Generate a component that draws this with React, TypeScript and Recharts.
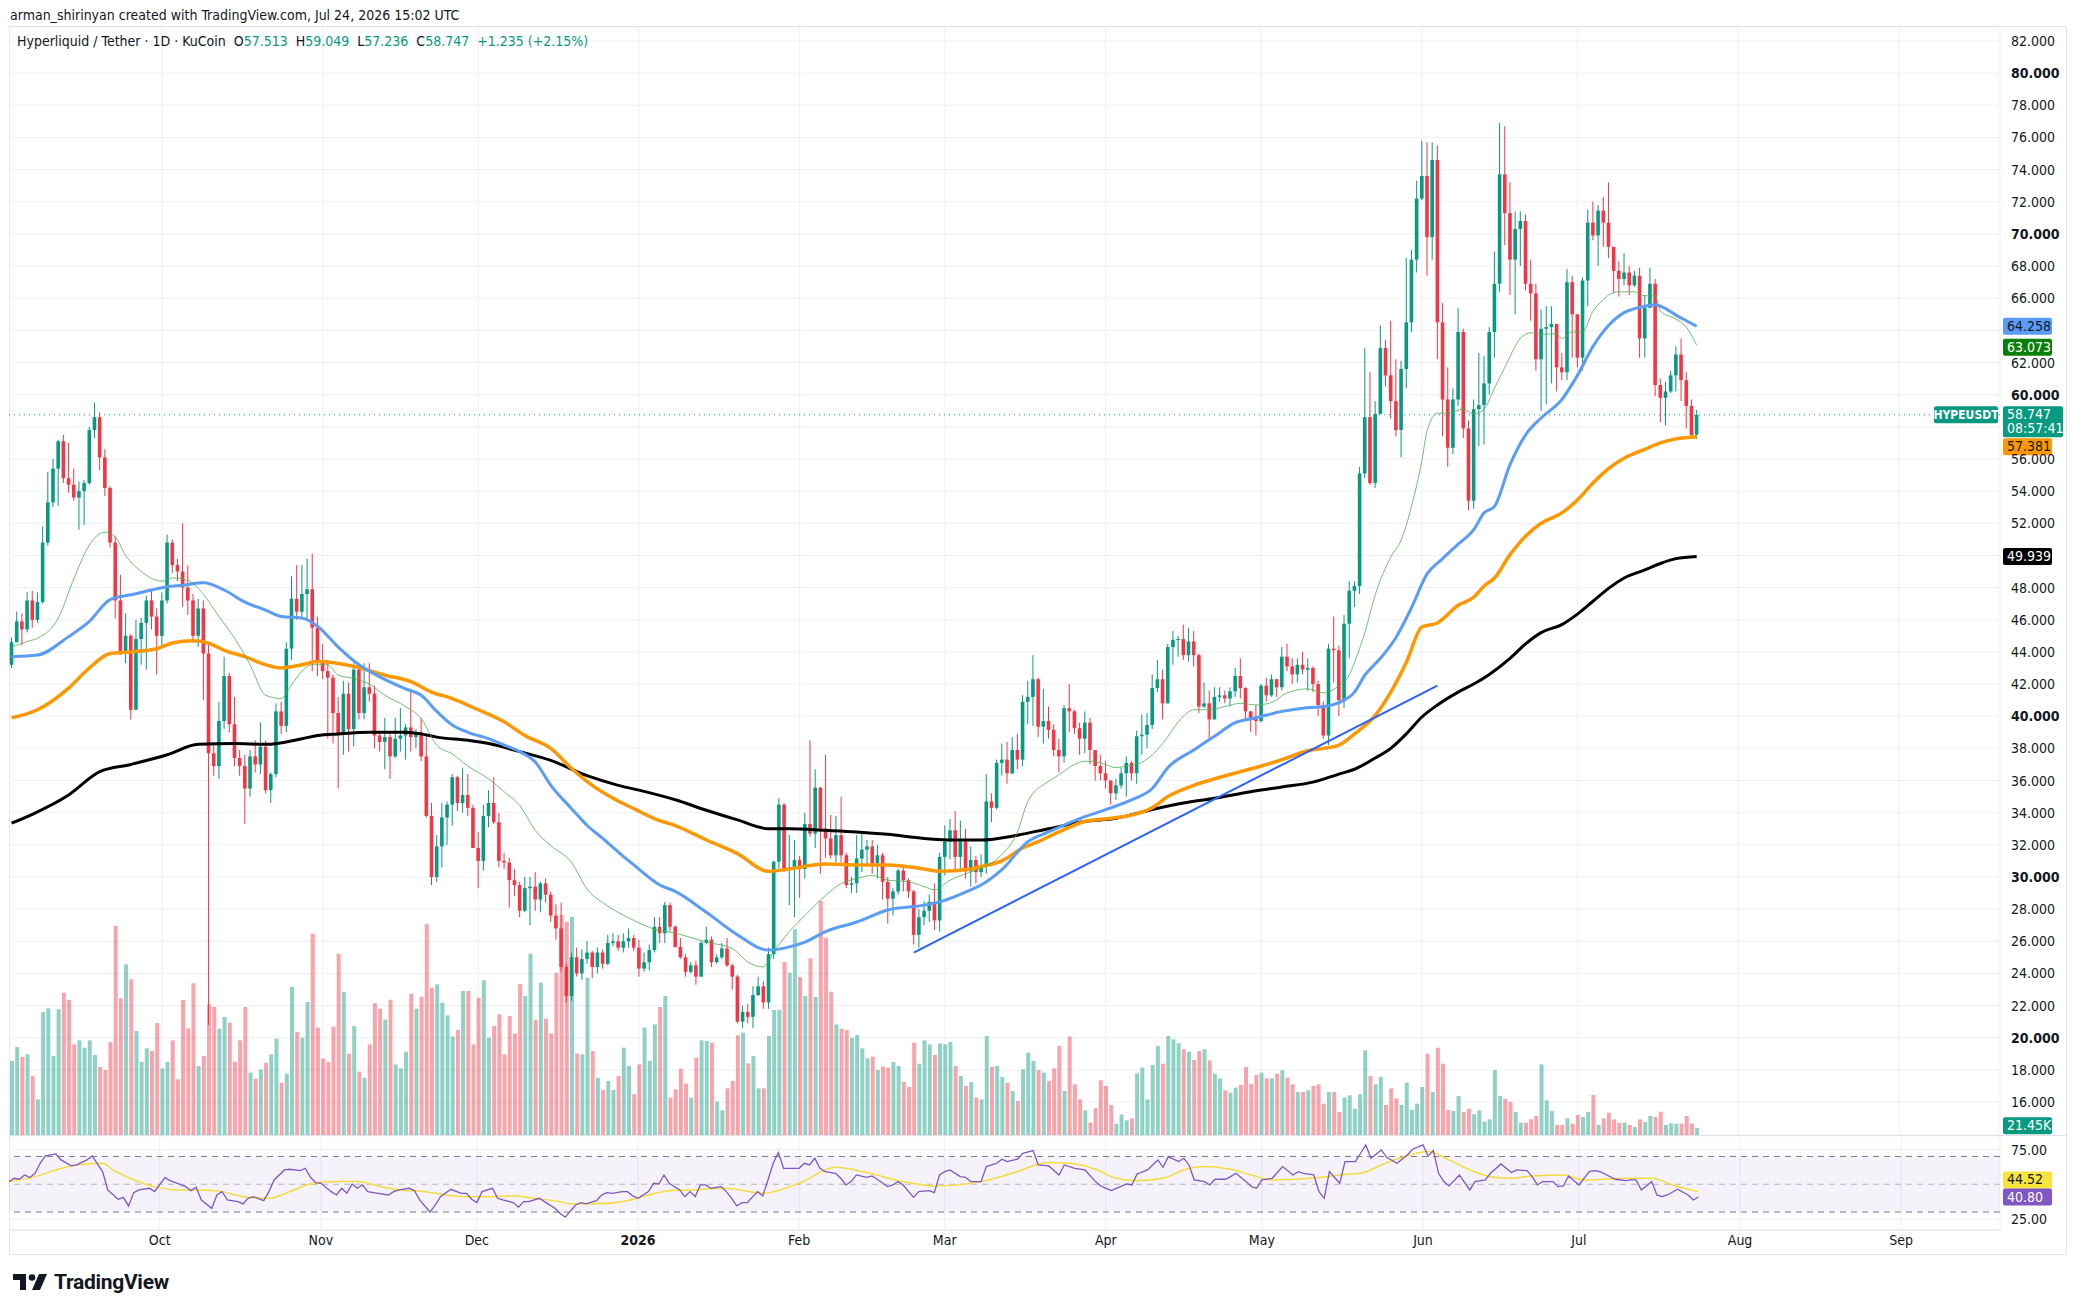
import React from 'react';
import { ComposedChart, Bar, Line, XAxis, YAxis, CartesianGrid, ReferenceLine, ReferenceArea, Cell } from 'recharts';

const FONT = "'Liberation Sans Narrow', 'DejaVu Sans Condensed', Roboto, sans-serif";
const TEXT = '#131722';
const UP = '#089981';
const DOWN = '#f23645';
const GRID = '#eef0f4';
const FRAME = '#e0e3eb';

// daily candles, day 0 = 2 Sep 2025, last = 24 Jul 2026
const firstOpen = 43.2;
const lastOpen = 57.513;
const closes = [
  44.6, 45.9, 45.4, 47.2, 46.0, 47.1, 50.8, 53.3, 55.4, 57.1,
  54.8, 54.4, 53.6, 54.0, 54.5, 57.8, 58.6, 56.1, 54.2, 50.8,
  47.2, 44.0, 45.0, 40.4, 44.8, 45.8, 47.2, 46.2, 45.0, 47.2,
  50.8, 49.4, 49.0, 48.0, 47.2, 45.0, 46.7, 43.9, 37.7, 36.9,
  39.7, 42.5, 39.5, 37.4, 36.9, 35.5, 37.5, 37.0, 38.1, 35.4,
  36.4, 40.3, 39.4, 44.2, 47.3, 46.5, 47.6, 47.9, 45.5, 43.4,
  42.8, 42.4, 40.2, 38.9, 41.4, 39.2, 42.9, 40.2, 41.8, 41.4,
  38.8, 38.4, 38.7, 37.5, 38.6, 38.8, 39.3, 38.7, 39.0, 37.5,
  33.8, 30.0, 31.9, 33.7, 34.5, 36.2, 34.6, 35.1, 34.3, 31.8,
  31.0, 33.8, 34.6, 33.4, 31.0, 30.9, 29.8, 29.5, 27.9, 29.3,
  29.4, 28.6, 29.6, 28.9, 27.6, 26.8, 24.4, 22.6, 25.0, 24.0,
  24.9, 25.3, 24.4, 25.3, 24.6, 25.9, 26.0, 25.6, 26.0, 26.2,
  25.6, 24.3, 24.7, 25.45, 26.9, 26.5, 28.25, 26.9, 25.65, 25.0,
  24.1, 24.5, 23.8, 25.9, 26.1, 24.7, 25.0, 25.55, 24.5, 23.8,
  21.0, 21.6, 21.3, 22.65, 23.2, 22.2, 25.2, 30.95, 34.5, 30.5,
  30.5, 31.05, 30.5, 33.3, 32.7, 35.55, 33.0, 32.4, 31.35, 32.6,
  31.35, 29.5, 29.6, 31.15, 31.7, 31.9, 30.85, 31.35, 29.7, 28.65,
  29.1, 30.4, 29.8, 29.1, 26.4, 27.5, 27.9, 28.45, 27.3, 31.25,
  32.2, 32.9, 31.25, 32.2, 30.35, 31.05, 30.3, 30.7, 34.7, 34.3,
  37.1, 37.3, 36.45, 37.9, 37.3, 40.9, 41.2, 42.3, 39.35, 39.7,
  39.15, 37.9, 37.5, 40.5, 40.3, 39.25, 38.6, 39.6, 37.9, 36.9,
  36.45, 36.0, 35.2, 35.7, 36.45, 37.1, 36.45, 38.75, 38.85, 39.45,
  41.75, 42.3, 40.8, 44.3, 44.75, 44.8, 43.8, 44.65, 43.8, 40.6,
  40.8, 39.8, 41.2, 41.3, 41.1, 41.55, 42.5, 41.75, 40.3, 39.9,
  39.7, 41.9, 41.3, 42.3, 41.8, 43.7, 43.1, 42.6, 43.2, 42.9,
  43.0, 42.0, 40.7, 38.8, 44.2, 44.1, 41.0, 45.75, 47.8, 48.1,
  55.1, 58.6, 54.5, 58.8, 62.9, 61.2, 59.6, 57.8, 61.6, 64.5,
  68.4, 72.2, 73.6, 69.8, 74.6, 64.5, 59.7, 56.7, 59.7, 63.9,
  57.9, 53.4, 59.1, 59.35, 60.7, 63.9, 66.9, 73.7, 71.3, 68.4,
  70.3, 70.8, 66.9, 66.3, 62.2, 64.1, 64.2, 64.4, 61.7, 61.4,
  67.0, 65.0, 62.3, 67.1, 70.7, 69.9, 71.45, 70.7, 69.2, 67.7,
  67.2, 67.6, 66.8, 67.4, 63.5, 65.4, 66.9, 60.6, 59.8, 60.2,
  61.2, 62.5, 60.9, 59.3, 57.5, 58.747,
];
const highs = [
  44.9, 46.5, 46.4, 47.7, 47.8, 47.7, 51.8, 55.2, 56.0, 57.2,
  57.5, 57.0, 55.4, 54.6, 54.7, 58.0, 59.5, 58.9, 56.6, 54.3,
  51.2, 48.8, 46.4, 45.1, 46.0, 46.1, 47.5, 47.9, 46.7, 47.7,
  51.3, 51.0, 49.8, 52.0, 49.4, 47.6, 47.3, 47.2, 44.6, 38.3,
  40.9, 43.7, 42.7, 41.2, 37.9, 37.6, 37.9, 38.5, 39.6, 38.5,
  36.5, 40.8, 40.9, 44.6, 48.7, 49.4, 49.4, 49.8, 50.1, 46.2,
  44.5, 43.5, 42.6, 41.2, 42.2, 42.1, 43.3, 43.2, 43.3, 43.3,
  41.9, 39.0, 39.9, 39.0, 39.9, 40.5, 39.5, 41.6, 39.2, 39.9,
  38.8, 34.6, 32.6, 34.6, 34.7, 36.4, 36.3, 36.8, 36.4, 34.5,
  32.8, 34.5, 35.4, 36.2, 34.0, 31.5, 31.2, 30.5, 29.7, 30.0,
  30.0, 30.3, 29.7, 29.9, 29.1, 28.3, 28.4, 24.6, 25.3, 25.6,
  25.5, 26.0, 25.4, 25.6, 25.5, 26.4, 26.5, 26.4, 26.5, 26.8,
  26.4, 26.1, 25.3, 25.8, 27.5, 27.5, 28.45, 28.4, 27.0, 26.2,
  25.2, 24.7, 24.8, 26.0, 26.9, 26.3, 25.2, 25.9, 26.2, 24.6,
  23.9, 22.0, 22.1, 23.2, 23.8, 23.5, 25.6, 31.0, 34.9, 34.6,
  32.6, 32.3, 31.3, 34.0, 38.5, 36.7, 35.6, 37.6, 33.85, 33.8,
  35.0, 31.5, 30.0, 32.6, 32.8, 32.3, 32.3, 32.0, 31.5, 30.0,
  29.3, 30.5, 30.6, 29.9, 29.2, 28.0, 28.5, 28.9, 29.6, 31.5,
  33.2, 33.6, 34.1, 33.5, 33.0, 31.9, 31.3, 31.4, 36.4, 35.2,
  37.3, 38.3, 38.4, 38.7, 38.9, 41.3, 42.2, 43.8, 42.4, 41.7,
  40.6, 39.5, 38.6, 40.7, 42.0, 40.4, 39.6, 40.3, 39.9, 37.9,
  37.6, 37.2, 36.0, 36.1, 36.8, 37.5, 37.2, 39.1, 40.1, 40.2,
  42.6, 43.5, 42.9, 44.5, 45.3, 45.0, 45.7, 45.5, 45.3, 43.9,
  42.1, 41.6, 41.8, 41.8, 41.6, 41.8, 43.0, 43.6, 41.8, 40.3,
  40.7, 42.0, 42.4, 42.6, 42.1, 44.3, 44.5, 43.6, 43.6, 44.0,
  43.6, 43.1, 42.2, 40.9, 44.5, 46.2, 44.4, 46.3, 48.4, 48.4,
  55.5, 62.9, 61.4, 59.6, 64.3, 63.4, 64.6, 62.2, 62.1, 68.5,
  69.0, 73.3, 75.8, 75.7, 75.7, 75.5, 65.7, 61.7, 60.4, 65.4,
  64.1, 58.4, 59.7, 62.6, 62.4, 64.2, 68.9, 76.9, 76.7, 73.2,
  71.4, 71.4, 71.2, 68.4, 66.9, 65.3, 65.5, 65.5, 64.0, 62.6,
  67.8, 67.4, 64.1, 67.3, 71.5, 72.0, 71.8, 72.3, 73.2, 69.1,
  68.3, 68.8, 68.0, 67.7, 67.9, 66.2, 67.9, 67.2, 61.0, 60.8,
  61.5, 63.0, 63.5, 61.4, 59.7, 59.049,
];
const lows = [
  43.0, 44.6, 44.4, 45.2, 45.5, 45.8, 47.0, 50.6, 53.0, 53.1,
  54.5, 53.9, 53.4, 51.6, 51.9, 54.4, 57.3, 55.3, 53.7, 50.5,
  46.1, 43.8, 43.3, 39.8, 40.4, 43.2, 42.9, 45.4, 42.6, 44.2,
  47.0, 48.9, 48.4, 46.8, 46.3, 44.6, 44.3, 41.0, 20.8, 36.3,
  36.1, 39.2, 39.0, 36.9, 36.3, 33.3, 35.0, 36.5, 36.4, 35.2,
  34.6, 36.2, 38.9, 39.0, 43.5, 46.0, 46.0, 46.0, 42.8, 42.5,
  42.3, 38.6, 38.3, 35.5, 37.6, 37.8, 38.1, 39.8, 39.8, 40.9,
  38.0, 37.8, 36.7, 36.1, 37.4, 37.8, 37.3, 37.8, 38.0, 37.2,
  33.7, 29.5, 29.7, 30.6, 32.0, 33.2, 34.1, 34.0, 33.8, 31.8,
  29.3, 30.4, 33.1, 33.3, 30.6, 30.5, 28.1, 28.8, 27.5, 27.8,
  27.0, 27.9, 27.8, 28.4, 27.2, 26.1, 24.1, 22.2, 22.3, 23.8,
  23.6, 24.6, 23.7, 24.0, 24.3, 24.5, 25.7, 25.4, 25.3, 25.6,
  25.4, 23.8, 24.1, 24.2, 25.3, 25.9, 25.9, 26.6, 25.6, 24.9,
  23.8, 24.0, 23.3, 23.8, 25.8, 24.4, 24.6, 24.9, 24.4, 23.0,
  20.9, 20.6, 20.9, 20.6, 22.6, 21.8, 21.8, 24.9, 30.5, 30.3,
  28.25, 27.5, 28.7, 29.9, 32.5, 31.8, 30.2, 31.2, 31.15, 30.9,
  30.9, 29.3, 29.0, 29.0, 30.3, 30.8, 30.2, 29.9, 28.6, 27.1,
  27.6, 28.9, 29.1, 28.7, 25.8, 25.6, 27.0, 27.2, 26.7, 26.6,
  30.1, 31.1, 30.5, 30.4, 29.9, 29.4, 29.6, 30.0, 30.2, 33.4,
  34.2, 36.3, 35.8, 36.4, 36.7, 36.9, 39.5, 39.4, 38.7, 38.3,
  38.6, 37.5, 36.5, 37.1, 39.0, 38.9, 37.6, 37.7, 37.0, 36.0,
  36.0, 35.5, 34.5, 34.8, 35.5, 35.0, 36.0, 35.8, 37.6, 38.0,
  39.2, 41.5, 39.8, 40.8, 43.2, 43.7, 43.5, 43.4, 43.1, 40.2,
  40.5, 38.5, 39.8, 40.9, 40.8, 40.6, 41.2, 41.1, 39.8, 39.0,
  38.8, 39.6, 40.9, 41.2, 41.2, 41.6, 42.8, 42.0, 42.1, 42.6,
  41.6, 41.5, 40.0, 38.6, 38.2, 42.1, 40.0, 40.5, 43.6, 46.8,
  47.6, 54.8, 54.4, 54.2, 58.8, 60.5, 58.5, 57.4, 56.1, 60.4,
  63.9, 67.6, 72.1, 67.4, 68.4, 62.2, 57.4, 55.5, 56.3, 59.3,
  57.3, 52.8, 52.9, 56.8, 56.9, 60.0, 62.3, 66.4, 69.3, 66.2,
  65.0, 68.0, 66.5, 64.6, 61.5, 59.0, 59.4, 60.7, 60.2, 60.9,
  60.9, 62.3, 61.7, 61.5, 65.5, 69.6, 68.0, 69.2, 68.5, 66.3,
  66.1, 66.8, 66.2, 66.7, 62.3, 62.3, 65.9, 59.9, 58.3, 58.1,
  60.1, 60.2, 59.6, 57.9, 57.4, 57.236,
];
// volume, thousands
const volumes = [
  222, 264, 234, 242, 177, 107, 369, 380, 237, 377,
  427, 405, 272, 284, 262, 284, 240, 204, 195, 279,
  627, 410, 512, 467, 312, 219, 260, 252, 336, 200,
  219, 284, 167, 405, 320, 455, 207, 237, 392, 384,
  319, 354, 337, 220, 284, 384, 187, 169, 197, 217,
  242, 289, 157, 184, 444, 309, 292, 399, 604, 322,
  229, 219, 325, 544, 429, 244, 327, 190, 172, 272,
  395, 379, 346, 406, 212, 200, 250, 424, 379, 415,
  632, 442, 452, 397, 359, 295, 315, 432, 432, 272,
  412, 464, 292, 327, 362, 242, 357, 304, 452, 417,
  544, 345, 457, 349, 304, 487, 660, 640, 654, 244,
  242, 472, 252, 172, 135, 162, 135, 177, 262, 207,
  122, 212, 322, 222, 332, 384, 417, 112, 137, 199,
  154, 112, 232, 284, 282, 277, 100, 74, 140, 162,
  299, 307, 215, 237, 140, 140, 297, 375, 375, 519,
  487, 617, 474, 417, 530, 414, 702, 592, 430, 332,
  319, 315, 292, 300, 260, 230, 235, 195, 205, 202,
  219, 207, 159, 144, 277, 214, 284, 272, 240, 275,
  272, 279, 207, 177, 147, 159, 112, 107, 297, 205,
  207, 174, 157, 132, 102, 197, 247, 222, 195, 187,
  162, 200, 267, 132, 296, 152, 107, 74, 37, 80,
  164, 147, 90, 34, 62, 44, 50, 185, 202, 107,
  210, 267, 214, 297, 287, 275, 257, 250, 225, 252,
  257, 224, 184, 170, 134, 127, 142, 150, 204, 154,
  180, 187, 170, 170, 184, 194, 172, 152, 129, 129,
  134, 147, 152, 94, 129, 129, 69, 112, 119, 79,
  122, 254, 177, 152, 174, 90, 140, 110, 90, 157,
  75, 94, 144, 244, 129, 262, 214, 75, 72, 117,
  69, 79, 62, 74, 40, 47, 195, 117, 109, 100,
  69, 37, 37, 47, 57, 212, 104, 72, 30, 30,
  50, 34, 60, 54, 69, 120, 30, 50, 67, 47,
  37, 37, 30, 24, 47, 39, 57, 54, 70, 30,
  35, 34, 34, 57, 35, 21.45,
];

// moving averages: [day, value]
const sma20Pts = [
  [0, 44.3], [3, 44.65], [5, 44.85], [9, 46.1], [12, 48.55], [15, 50.65], [17, 51.35], [18, 51.45], [20, 51.15], [22, 50.0],
  [25, 49.0], [29, 48.4], [31, 48.6], [34, 48.45], [36, 47.95], [40, 46.2], [43, 44.85], [46, 43.2], [49, 41.3], [52, 41.1],
  [54, 41.95], [56, 42.8], [58, 43.2], [61, 43.2], [63, 42.55], [66, 42.35], [69, 42.0], [72, 41.3], [76, 40.6], [79, 39.85],
  [82, 38.2], [85, 37.65], [88, 36.9], [92, 36.1], [95, 35.3], [98, 34.45], [101, 32.9], [104, 31.95], [108, 30.9], [111, 29.25],
  [114, 28.4], [117, 27.8], [120, 27.3], [124, 26.75], [128, 26.5], [134, 25.95], [139, 25.55], [142, 24.7], [145, 24.4], [147, 25.35],
  [150, 26.6], [153, 27.6], [157, 28.85], [160, 29.6], [163, 29.9], [166, 30.1], [169, 29.8], [173, 29.7], [176, 29.4], [178, 29.2],
  [181, 29.8], [184, 30.2], [187, 30.55], [191, 31.4], [194, 32.8], [196, 34.7], [200, 35.95], [202, 36.35], [205, 37.0], [207, 37.2],
  [210, 37.1], [213, 36.8], [215, 36.9], [217, 37.0], [220, 37.6], [222, 38.3], [226, 40.0], [228, 40.4], [231, 40.4], [234, 40.6],
  [237, 40.8], [240, 40.7], [243, 40.85], [246, 41.45], [250, 41.7], [253, 41.45], [256, 41.9], [258, 42.55], [259, 43.35], [261, 45.2],
  [263, 47.55], [266, 49.9], [268, 50.95], [270, 53.05], [272, 55.9], [273, 57.75], [275, 58.85], [277, 58.85], [280, 59.1], [282, 58.8],
  [284, 59.1], [286, 60.4], [288, 61.7], [291, 63.5], [293, 63.85], [295, 63.75], [298, 63.8], [299, 63.5], [301, 63.9], [303, 63.9],
  [305, 65.2], [307, 65.9], [308, 66.2], [310, 66.4], [313, 66.4], [315, 66.15], [317, 66.15], [318, 65.2], [321, 64.7], [323, 64.2],
  [325, 63.073],
];
const sma50Pts = [
  [0, 43.7], [5, 43.8], [11, 44.95], [15, 45.9], [19, 47.25], [23, 47.55], [27, 47.85], [30, 48.05], [33, 48.15], [37, 48.3],
  [41, 47.85], [45, 47.1], [49, 46.6], [52, 46.2], [56, 46.1], [59, 45.6], [63, 44.3], [67, 43.2], [71, 42.45], [76, 41.7],
  [79, 41.3], [82, 40.3], [85, 39.45], [88, 39.0], [92, 38.6], [95, 38.2], [98, 37.8], [101, 37.15], [104, 35.7], [108, 34.25],
  [111, 33.2], [114, 32.4], [117, 31.55], [120, 30.75], [125, 29.5], [128, 29.1], [134, 27.8], [140, 26.4], [146, 25.45], [150, 25.65],
  [153, 25.95], [157, 26.6], [163, 27.2], [169, 27.95], [176, 28.25], [179, 28.45], [185, 29.2], [187, 29.5], [191, 30.45], [196, 32.2],
  [200, 32.8], [207, 33.75], [212, 34.3], [216, 34.8], [220, 35.5], [223, 36.8], [228, 37.9], [232, 38.75], [236, 39.6], [240, 39.9],
  [245, 40.3], [249, 40.5], [253, 40.6], [256, 40.85], [259, 41.5], [261, 42.55], [264, 43.6], [267, 44.9], [270, 46.75], [273, 48.85],
  [276, 49.8], [279, 50.7], [282, 51.6], [284, 52.65], [286, 53.05], [289, 55.65], [292, 57.5], [295, 58.55], [299, 59.7], [302, 61.2],
  [305, 63.0], [308, 64.3], [311, 65.1], [313, 65.35], [315, 65.5], [317, 65.6], [319, 65.35], [321, 64.95], [323, 64.6], [325, 64.258],
];
const sma100Pts = [
  [0, 39.9], [5, 40.4], [11, 41.75], [15, 43.0], [19, 43.9], [23, 44.0], [28, 44.2], [31, 44.55], [35, 44.7], [38, 44.55],
  [41, 44.1], [45, 43.7], [49, 43.2], [52, 43.0], [56, 43.2], [59, 43.4], [66, 43.1], [72, 42.55], [77, 42.15], [81, 41.5],
  [85, 41.1], [90, 40.4], [95, 39.65], [99, 38.8], [104, 38.0], [108, 36.75], [112, 35.7], [116, 34.9], [120, 34.25], [125, 33.5],
  [128, 33.2], [134, 32.3], [140, 31.45], [146, 30.35], [150, 30.5], [157, 30.8], [163, 30.75], [169, 30.75], [176, 30.5], [179, 30.35],
  [185, 30.5], [187, 30.65], [191, 31.0], [195, 31.8], [198, 32.2], [202, 32.8], [207, 33.45], [212, 33.65], [216, 33.85], [220, 34.3],
  [223, 35.0], [228, 35.7], [232, 36.1], [237, 36.55], [241, 36.9], [245, 37.3], [250, 37.85], [253, 38.0], [256, 38.2], [259, 38.9],
  [263, 40.05], [266, 41.5], [269, 43.35], [272, 45.55], [275, 45.8], [279, 46.9], [282, 47.4], [284, 48.1], [286, 48.6], [289, 50.05],
  [292, 51.2], [295, 52.0], [299, 52.65], [302, 53.45], [305, 54.5], [308, 55.4], [311, 56.05], [315, 56.6], [318, 57.0], [321, 57.25],
  [325, 57.381],
];
const sma200Pts = [
  [0, 33.35], [4, 33.9], [11, 35.1], [17, 36.55], [23, 37.0], [30, 37.6], [36, 38.25], [43, 38.3], [49, 38.25], [56, 38.6],
  [59, 38.8], [63, 38.9], [69, 39.0], [76, 39.0], [79, 38.9], [82, 38.7], [88, 38.5], [92, 38.3], [98, 37.8], [104, 37.25],
  [111, 36.3], [117, 35.7], [121, 35.4], [128, 34.8], [134, 34.15], [140, 33.55], [146, 33.0], [150, 33.0], [157, 32.9], [163, 32.8],
  [169, 32.65], [176, 32.4], [182, 32.3], [187, 32.3], [194, 32.6], [200, 33.0], [207, 33.45], [213, 33.65], [220, 34.2], [226, 34.6],
  [232, 34.9], [239, 35.3], [245, 35.6], [251, 35.9], [256, 36.4], [259, 36.7], [263, 37.4], [266, 38.0], [269, 38.9], [272, 39.95],
  [275, 40.7], [279, 41.5], [282, 42.0], [285, 42.6], [289, 43.6], [292, 44.5], [295, 45.2], [299, 45.7], [302, 46.35], [305, 47.15],
  [308, 47.95], [311, 48.6], [315, 49.1], [318, 49.5], [321, 49.8], [325, 49.939],
];

// RSI(14) and its moving average: [day, value]
const rsiPts = [
  [0, 51.9], [1, 54.3], [2, 53.6], [3, 56.7], [4, 54.8], [5, 57.9], [6, 65.1], [7, 70.4], [9, 71.8], [10, 67.5],
  [12, 63.2], [13, 63.9], [15, 67.5], [16, 70.4], [18, 59.1], [19, 45.9], [21, 39.2], [22, 40.6], [23, 34.4], [24, 44.0],
  [25, 45.9], [27, 47.1], [28, 44.7], [30, 54.8], [31, 52.6], [32, 51.2], [34, 48.3], [35, 45.4], [36, 47.8], [37, 38.7],
  [39, 32.7], [40, 42.3], [41, 44.7], [42, 38.7], [44, 37.5], [45, 35.9], [46, 39.9], [47, 41.1], [49, 38.2], [50, 44.7],
  [51, 53.1], [53, 60.3], [54, 60.8], [56, 59.8], [57, 61.5], [58, 55.0], [59, 51.2], [60, 50.7], [62, 44.7], [63, 42.3],
  [64, 47.1], [65, 43.5], [66, 50.2], [67, 47.1], [68, 49.5], [69, 44.7], [71, 43.5], [73, 42.3], [74, 44.7], [75, 45.9],
  [77, 47.1], [78, 45.4], [79, 38.7], [81, 29.9], [82, 35.1], [83, 41.1], [85, 46.4], [87, 43.5], [88, 43.5], [89, 39.2],
  [90, 36.8], [91, 44.7], [93, 47.1], [94, 39.9], [95, 38.7], [97, 36.8], [98, 33.5], [99, 37.5], [100, 37.5], [102, 39.9],
  [103, 37.5], [105, 32.7], [106, 29.1], [107, 26.3], [109, 35.1], [110, 36.8], [111, 35.9], [113, 38.2], [114, 42.3], [115, 44.0],
  [116, 43.5], [118, 44.7], [119, 44.7], [120, 41.6], [121, 39.9], [123, 44.7], [124, 50.7], [125, 50.2], [126, 56.7], [127, 50.7],
  [129, 45.9], [130, 41.1], [131, 44.7], [132, 41.1], [133, 49.5], [134, 49.5], [135, 47.1], [137, 48.3], [138, 44.7], [139, 39.9],
  [140, 34.4], [141, 36.8], [142, 36.8], [144, 44.7], [145, 41.6], [146, 53.1], [147, 65.1], [148, 72.8], [149, 61.5], [150, 61.5],
  [152, 61.5], [153, 65.1], [154, 63.9], [155, 68.7], [156, 61.5], [157, 59.1], [159, 57.9], [160, 54.3], [161, 49.5], [162, 51.9],
  [163, 56.7], [165, 55.0], [166, 56.0], [167, 53.6], [169, 48.3], [170, 49.5], [171, 51.9], [172, 49.5], [174, 40.6], [175, 44.7],
  [177, 45.4], [178, 44.0], [179, 56.7], [180, 59.1], [181, 60.3], [183, 55.5], [184, 55.0], [185, 51.9], [187, 51.9], [188, 62.7],
  [190, 65.1], [191, 68.0], [192, 66.3], [194, 68.0], [195, 72.3], [197, 74.2], [198, 63.9], [200, 63.2], [202, 56.7], [203, 63.9],
  [205, 61.5], [207, 60.3], [209, 51.9], [210, 48.8], [212, 45.4], [213, 47.1], [215, 50.2], [216, 49.5], [217, 57.4], [219, 60.3],
  [221, 67.5], [222, 62.2], [223, 69.9], [225, 66.3], [226, 68.7], [227, 63.9], [228, 53.1], [230, 51.9], [231, 49.5], [232, 53.6],
  [234, 53.6], [235, 55.5], [236, 57.9], [238, 51.9], [239, 48.3], [240, 47.1], [241, 53.1], [243, 54.3], [245, 62.7], [247, 56.7],
  [248, 59.1], [249, 57.9], [251, 56.7], [252, 44.7], [253, 39.9], [254, 59.1], [256, 50.7], [257, 66.3], [259, 66.3], [260, 72.3],
  [261, 78.3], [262, 68.7], [264, 74.7], [265, 69.4], [267, 65.1], [269, 71.1], [270, 75.2], [272, 78.3], [273, 70.4], [274, 74.2],
  [275, 57.9], [276, 51.9], [277, 48.8], [279, 56.7], [281, 45.9], [282, 51.9], [284, 53.1], [285, 57.9], [287, 64.6], [289, 58.4],
  [290, 60.3], [292, 59.8], [293, 55.5], [294, 49.5], [295, 51.9], [297, 51.9], [298, 48.3], [299, 48.8], [300, 56.0], [302, 49.5],
  [304, 59.1], [305, 59.8], [306, 59.1], [307, 57.4], [309, 53.6], [311, 52.6], [312, 53.1], [313, 53.1], [314, 45.9], [316, 51.9],
  [317, 42.3], [318, 41.1], [319, 42.3], [321, 46.4], [323, 42.3], [324, 38.7], [325, 40.8],
];
const rsiMaPts = [
  [0, 51.9], [5, 55.5], [9, 60.3], [13, 63.9], [18, 65.1], [20, 60.3], [24, 53.1], [28, 48.3], [32, 45.9], [37, 45.9],
  [41, 44.7], [45, 41.1], [50, 39.9], [54, 44.7], [58, 50.2], [63, 51.9], [67, 51.9], [71, 48.8], [75, 45.9], [80, 44.7],
  [84, 42.3], [88, 41.1], [93, 41.1], [97, 41.6], [101, 39.9], [106, 37.5], [108, 35.9], [113, 35.9], [119, 38.2], [123, 42.3],
  [127, 45.4], [131, 45.9], [138, 47.1], [145, 43.5], [152, 50.7], [159, 62.2], [165, 58.4], [172, 51.9], [178, 48.8], [187, 51.9],
  [193, 57.9], [200, 65.6], [204, 65.1], [209, 60.8], [213, 54.3], [217, 52.6], [222, 54.3], [226, 60.3], [230, 62.7], [235, 60.8],
  [239, 56.7], [243, 53.1], [252, 54.8], [256, 56.7], [260, 57.9], [264, 63.9], [268, 69.4], [273, 73.5], [277, 67.5], [281, 60.3],
  [286, 54.8], [289, 54.3], [293, 56.0], [299, 56.7], [303, 53.1], [307, 53.6], [311, 54.3], [316, 54.3], [320, 49.5], [325, 44.52],
];

const TOTAL_DAYS = 384; // through late Sep 2026
const monthTicks = [29, 60, 90, 121, 152, 180, 211, 241, 272, 302, 333, 364];
const monthLabels = ['Oct', 'Nov', 'Dec', '2026', 'Feb', 'Mar', 'Apr', 'May', 'Jun', 'Jul', 'Aug', 'Sep'];
const priceTicks = Array.from({ length: 34 }, (_, i) => 16 + i * 2);
const coveredPriceLabels = [64, 58, 50]; // hidden behind the price badges
const trendLine = [{ x: 174, y: 25.3 }, { x: 275, y: 41.9 }];
const legendChange = '+1.235 (+2.15%)';

const toMap = (pts: number[][]) => new Map(pts.map(([d, v]) => [d, v]));
const m20 = toMap(sma20Pts);
const m50 = toMap(sma50Pts);
const m100 = toMap(sma100Pts);
const m200 = toMap(sma200Pts);
const mRsi = toMap(rsiPts);
const mRsiMa = toMap(rsiMaPts);

const rows = Array.from({ length: TOTAL_DAYS }, (_, d) => {
  const row: any = {
    d,
    sma20: m20.get(d) ?? null,
    sma50: m50.get(d) ?? null,
    sma100: m100.get(d) ?? null,
    sma200: m200.get(d) ?? null,
    rsi: mRsi.get(d) ?? null,
    rsiMa: mRsiMa.get(d) ?? null,
  };
  if (d < closes.length) {
    const c = closes[d];
    const o = d === 0 ? firstOpen : d === closes.length - 1 ? lastOpen : closes[d - 1];
    const h = Math.max(highs[d], o, c);
    const l = Math.min(lows[d], o, c);
    Object.assign(row, { o, h, l, c, range: [l, h], vol: volumes[d] });
  }
  return row;
});

const last = closes.length - 1;

function Candle(props: any) {
  const { x, y, width, height, payload } = props;
  if (!payload || payload.h == null) return null;
  const { o, h, l, c } = payload;
  const top = Math.min(y, y + height);
  const span = Math.abs(height);
  const k = span / (h - l || 1);
  const yOf = (v: number) => top + (h - v) * k;
  const color = c >= o ? UP : DOWN;
  const cx = x + width / 2;
  const bTop = yOf(Math.max(o, c));
  const bH = Math.max(1, yOf(Math.min(o, c)) - bTop);
  return (
    <g>
      <line x1={cx} x2={cx} y1={top} y2={top + span} stroke={color} strokeWidth={1} />
      <rect x={cx - 1.8} y={bTop} width={3.6} height={bH} fill={color} />
    </g>
  );
}

const badge = (lines: string[], bg: string, fg: string, dy = 0, tag?: string) => (props: any) => {
  const vb = props.viewBox || {};
  const x = vb.x + vb.width + 3;
  const y = vb.y + dy;
  const two = lines.length > 1;
  const h = two ? 31 : 17;
  const w = two ? 60 : 49;
  const top = two ? y - 8.5 : y - h / 2;
  return (
    <g fontFamily={FONT}>
      {tag && (
        <g>
          <rect x={vb.x + vb.width - 66} y={y - 8.5} width={64} height={17} rx={2} fill={bg} />
          <text x={vb.x + vb.width - 34} y={y + 4.5} fontSize={12} fontWeight={700} fill={fg} textAnchor="middle">{tag}</text>
        </g>
      )}
      <rect x={x} y={top} width={w} height={h} rx={2} fill={bg} />
      {lines.map((t, i) => (
        <text key={i} x={x + 4} y={top + 13 + i * 14} fontSize={14} fill={fg}>{t}</text>
      ))}
    </g>
  );
};

const PriceTick = (p: any) => {
  const v = p.payload.value;
  if (coveredPriceLabels.includes(v)) return null;
  return (
    <text x={p.x} y={p.y} dy={5} fontSize={14} fill={TEXT} fontFamily={FONT} fontWeight={v % 10 === 0 ? 700 : 400} textAnchor="start">
      {v.toFixed(3)}
    </text>
  );
};

const RsiTick = (p: any) => (
  <text x={p.x} y={p.y} dy={5} fontSize={14} fill={TEXT} fontFamily={FONT} textAnchor="start">
    {p.payload.value.toFixed(2)}
  </text>
);

const TimeTick = (p: any) => {
  const i = monthTicks.indexOf(p.payload.value);
  if (i < 0) return null;
  const lab = monthLabels[i];
  return (
    <text x={p.x} y={p.y + 15} fontSize={14} fill={TEXT} fontFamily={FONT} textAnchor="middle" fontWeight={lab === '2026' ? 700 : 400}>
      {lab}
    </text>
  );
};

export default function App() {
  return (
    <div style={{ position: 'absolute', left: 0, top: 0, width: 2078, height: 1314, background: '#fff', fontFamily: FONT, color: TEXT }}>
      <div style={{ position: 'absolute', left: 10, top: 6, fontSize: 14, lineHeight: '18px', whiteSpace: 'nowrap' }}>
        arman_shirinyan created with TradingView.com, Jul 24, 2026 15:02 UTC
      </div>
      <div style={{ position: 'absolute', left: 9, top: 26, width: 2056, height: 1227, border: `1px solid ${FRAME}` }} />

      <div style={{ position: 'absolute', left: 9, top: 27 }}>
        <ComposedChart width={2058} height={1108} data={rows} margin={{ top: 0, right: 0, bottom: 0, left: 0 }}>
          <CartesianGrid xAxisId="p" yAxisId="price" stroke={GRID} />
          <XAxis xAxisId="p" dataKey="d" type="category" hide ticks={monthTicks} interval={0} />
          <XAxis xAxisId="v" dataKey="d" type="category" hide />
          <YAxis yAxisId="price" orientation="right" width={67} domain={[13.95, 82.87]} allowDataOverflow ticks={priceTicks} interval={0} axisLine={false} tickLine={false} tickMargin={5} tick={PriceTick} />
          <YAxis yAxisId="vol" hide domain={[0, 3324]} allowDataOverflow />
          <Bar xAxisId="v" yAxisId="vol" dataKey="vol" barSize={4} isAnimationActive={false}>
            {rows.map((r) => (
              <Cell key={r.d} fill={r.c >= r.o ? 'rgba(8,153,129,0.45)' : 'rgba(242,54,69,0.45)'} />
            ))}
          </Bar>
          <Bar xAxisId="p" yAxisId="price" dataKey="range" shape={Candle} isAnimationActive={false} />
          <Line xAxisId="p" yAxisId="price" type="monotone" dataKey="sma200" stroke="#000000" strokeWidth={3} dot={false} connectNulls isAnimationActive={false} />
          <Line xAxisId="p" yAxisId="price" type="monotone" dataKey="sma100" stroke="#ff9800" strokeWidth={3.5} dot={false} connectNulls isAnimationActive={false} />
          <Line xAxisId="p" yAxisId="price" type="monotone" dataKey="sma50" stroke="#5b9cf6" strokeWidth={3} dot={false} connectNulls isAnimationActive={false} />
          <Line xAxisId="p" yAxisId="price" type="monotone" dataKey="sma20" stroke="#4caf50" strokeOpacity={0.8} strokeWidth={1} dot={false} connectNulls isAnimationActive={false} />
          <ReferenceLine xAxisId="p" yAxisId="price" segment={trendLine} stroke="#2962ff" strokeWidth={2} />
          <ReferenceLine xAxisId="p" yAxisId="price" y={closes[last]} stroke={UP} strokeDasharray="1 4" label={badge([closes[last].toFixed(3), '08:57:41'], UP, '#fff', 0, 'HYPEUSDT')} />
          <ReferenceLine xAxisId="p" yAxisId="price" y={64.258} stroke="none" label={badge(['64.258'], '#5b9cf6', TEXT)} />
          <ReferenceLine xAxisId="p" yAxisId="price" y={63.073} stroke="none" label={badge(['63.073'], '#0a7e0a', '#fff', 2)} />
          <ReferenceLine xAxisId="p" yAxisId="price" y={57.381} stroke="none" label={badge(['57.381'], '#ff9800', TEXT, 10)} />
          <ReferenceLine xAxisId="p" yAxisId="price" y={49.939} stroke="none" label={badge(['49.939'], '#000', '#fff')} />
          <ReferenceLine xAxisId="p" yAxisId="vol" y={volumes[last]} stroke="none" label={badge(['21.45K'], UP, '#fff', -2)} />
        </ComposedChart>
      </div>

      <div style={{ position: 'absolute', left: 9, top: 1135, width: 2058, height: 1, background: FRAME }} />

      <div style={{ position: 'absolute', left: 9, top: 1137 }}>
        <ComposedChart width={2058} height={118} data={rows} margin={{ top: 0, right: 0, bottom: 0, left: 0 }}>
          <CartesianGrid stroke={GRID} />
          <XAxis dataKey="d" type="category" ticks={monthTicks} interval={0} height={25} tickLine={false} tickSize={0} tickMargin={0} axisLine={{ stroke: FRAME }} tick={TimeTick} />
          <YAxis orientation="right" width={67} domain={[17.1, 84]} allowDataOverflow ticks={[25, 75]} interval={0} axisLine={false} tickLine={false} tickMargin={5} tick={RsiTick} />
          <ReferenceArea y1={30} y2={70} fill="#7e57c2" fillOpacity={0.08} stroke="none" />
          <ReferenceLine y={70} stroke="#787b86" strokeDasharray="6 5" />
          <ReferenceLine y={50} stroke="#787b86" strokeOpacity={0.5} strokeDasharray="6 5" />
          <ReferenceLine y={30} stroke="#787b86" strokeDasharray="6 5" />
          <Line type="monotone" dataKey="rsiMa" stroke="#f5dc3c" strokeWidth={1.5} dot={false} connectNulls isAnimationActive={false} />
          <Line type="linear" dataKey="rsi" stroke="#7e57c2" strokeWidth={1.3} dot={false} connectNulls isAnimationActive={false} />
          <ReferenceLine y={44.52} stroke="none" label={badge(['44.52'], '#f7e53b', TEXT, -12)} />
          <ReferenceLine y={40.8} stroke="none" label={badge(['40.80'], '#7e57c2', '#fff', 0)} />
        </ComposedChart>
      </div>

      <div style={{ position: 'absolute', left: 17, top: 32, fontSize: 14, lineHeight: '18px', whiteSpace: 'nowrap' }}>
        Hyperliquid / Tether · 1D · KuCoin
        <span style={{ marginLeft: 8 }}>O</span><span style={{ color: UP }}>{lastOpen.toFixed(3)}</span>
        <span style={{ marginLeft: 8 }}>H</span><span style={{ color: UP }}>{highs[last].toFixed(3)}</span>
        <span style={{ marginLeft: 8 }}>L</span><span style={{ color: UP }}>{lows[last].toFixed(3)}</span>
        <span style={{ marginLeft: 8 }}>C</span><span style={{ color: UP }}>{closes[last].toFixed(3)}</span>
        <span style={{ marginLeft: 8, color: UP }}>{legendChange}</span>
      </div>

      <div style={{ position: 'absolute', left: 13, top: 1270, display: 'flex', alignItems: 'center' }}>
        <svg width={36} height={24} viewBox="0 0 36 24">
          <path d="M0 4h13v16H7V10H0z" fill={TEXT} />
          <circle cx={19} cy={7.5} r={3.3} fill={TEXT} />
          <path d="M26 4h8l-7 16h-8z" fill={TEXT} />
        </svg>
        <span style={{ marginLeft: 5, fontSize: 21, fontWeight: 700, fontFamily: 'Roboto, sans-serif', letterSpacing: -0.3 }}>TradingView</span>
      </div>
    </div>
  );
}
